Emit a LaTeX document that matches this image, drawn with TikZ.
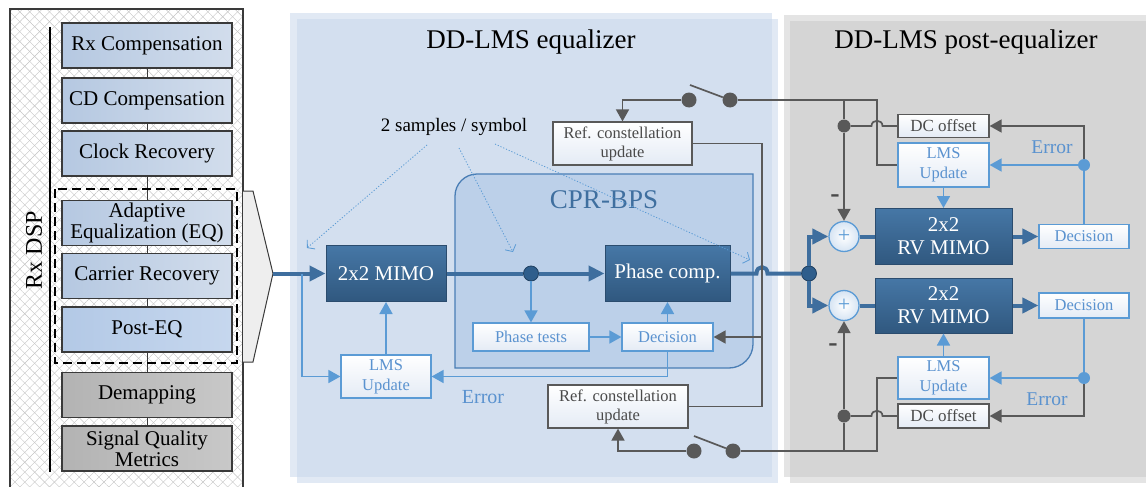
\documentclass[tikz,border=0pt]{standalone}
\usepackage{fontspec}
\setmainfont{Liberation Serif}
\usetikzlibrary{arrows.meta,patterns.meta}
\definecolor{edge}{HTML}{3A3A3A}
\definecolor{hatch}{HTML}{C4C4C4}
\definecolor{lbL}{HTML}{B5C8E1}
\definecolor{lbR}{HTML}{D2DDEC}
\definecolor{peL}{HTML}{B3C9E6}
\definecolor{peR}{HTML}{C6D7EE}
\definecolor{gbL}{HTML}{B3B3B3}
\definecolor{gbR}{HTML}{C8C8C8}
\definecolor{chev}{HTML}{EEEEEE}
\definecolor{mpO}{HTML}{E1E9F4}
\definecolor{mpI}{HTML}{D3DFEF}
\definecolor{rpO}{HTML}{E4E4E4}
\definecolor{rpI}{HTML}{D5D5D5}
\definecolor{cprF}{HTML}{BCD0E9}
\definecolor{cprE}{HTML}{4A7EB5}
\definecolor{cprT}{HTML}{3F6F9F}
\definecolor{lblue}{HTML}{5B9BD5}
\definecolor{lbtext}{HTML}{5A92CF}
\definecolor{gline}{HTML}{595959}
\definecolor{gtext}{HTML}{4A4A4A}
\definecolor{mline}{HTML}{3E6E9E}
\definecolor{dkT}{HTML}{4677A6}
\definecolor{dkB}{HTML}{30587F}
\definecolor{dkE}{HTML}{2B4C6E}
\definecolor{dotF}{HTML}{2F5E8C}
\definecolor{dotE}{HTML}{1F3F60}
\definecolor{wbB}{HTML}{E4EBF5}
\definecolor{plusO}{HTML}{D6E4F3}
\begin{document}
\begin{tikzpicture}[x=1pt,y=-1pt,
  lbox/.style={draw=edge,line width=1.2pt,minimum width=170pt,minimum height=45pt,inner sep=0pt,
    left color=lbL,right color=lbR,font=\fontsize{21}{21}\selectfont,align=center,text=black},
  gbox/.style={lbox,left color=gbL,right color=gbR},
  dbox/.style={draw=dkE,line width=1pt,top color=dkT,bottom color=dkB,text=white,inner sep=0pt,
    font=\fontsize{21}{23}\selectfont,align=center},
  wbox/.style={line width=1.2pt,inner sep=0pt,top color=white,bottom color=wbB,
    font=\fontsize{16.5}{20}\selectfont,align=center},
  bbox/.style={wbox,draw=lblue,text=lbtext},
  kbox/.style={wbox,draw=gline,text=gtext,font=\fontsize{16.5}{19}\selectfont},
  bline/.style={draw=lblue,line width=1.7pt},
  gln/.style={draw=gline,line width=1.7pt},
  mln/.style={draw=mline,line width=4pt},
  barr/.style={-{Triangle[length=12pt,width=13pt]}},
  marr/.style={-{Triangle[length=16pt,width=15pt]}},
  dotarr/.style={draw=lblue,line width=0.8pt,dash pattern=on 1.2pt off 1.8pt,-{Straight Barb[length=5pt,width=12pt]}},
  bdot/.style={circle,inner sep=0pt,minimum size=15pt,fill=dotF,draw=dotE,line width=0.8pt},
  gdot/.style={circle,inner sep=0pt,minimum size=14pt,fill=gline},
  bldot/.style={circle,inner sep=0pt,minimum size=12pt,fill=lblue},
  plus/.style={circle,draw=lblue,line width=1.3pt,minimum size=30pt,inner sep=0pt,
    inner color=white,outer color=plusO,text=lblue,font=\fontsize{22}{22}\selectfont},
  lbl/.style={inner sep=0pt},
  minus/.style={lbl,text=gtext,font=\bfseries\fontsize{28}{28}\selectfont},
]
\useasboundingbox (0,0) rectangle (1146,487);

% ---------- panel backgrounds
\fill[white] (10,9) rectangle (243,495);
\path[pattern={Lines[angle=45,distance=7pt,line width=0.4pt]},pattern color=hatch] (10,9) rectangle (243,495);
\path[pattern={Lines[angle=-45,distance=7pt,line width=0.4pt]},pattern color=hatch] (10,9) rectangle (243,495);
\draw[edge,line width=1.2pt] (10,495) -- (10,9) -- (243,9) -- (243,495);

% two offset translucent sheets per stage, darker where they overlap
\fill[mpO] (290,13) rectangle (772,477);
\fill[mpO] (297,19) rectangle (778,483);
\fill[mpI] (297,19) rectangle (772,477);
\fill[rpO] (784,15) rectangle (1150,477);
\fill[rpO] (790,21) rectangle (1150,483);
\fill[rpI] (790,21) rectangle (1150,477);

% ---------- receiver DSP chain
\draw[black,line width=1.8pt] (50,27) -- (50,472);
\node[lbl,rotate=90,font=\fontsize{24}{24}\selectfont] (rxdsp) at (34,250) {Rx DSP};

\node[lbox] (rx)  at (147,45.5)  {Rx Compensation};
\node[lbox] (cd)  at (147,100.5) {CD Compensation};
\node[lbox] (clk) at (147,153.5) {Clock Recovery};
\node[lbox] (aeq) at (147,223)   {Adaptive\\Equalization (EQ)};
\node[lbox] (car) at (147,276)   {Carrier Recovery};
\node[lbox,left color=peL,right color=peR] (peq) at (147,329.5) {Post-EQ};
\node[gbox] (dem) at (147,395)   {Demapping};
\node[gbox] (sqm) at (147,448.5) {Signal Quality\\Metrics};
\foreach \a/\b in {rx/cd,cd/clk,clk/aeq,aeq/car,car/peq,peq/dem,dem/sqm}
  \draw[edge,line width=1pt] (\a) -- (\b);

\draw[black,line width=2pt,dash pattern=on 9pt off 5pt] (55,189) rectangle (237,363);

% expansion chevron
\draw[edge,fill=chev,line width=1pt] (243,191) -- (253,191) -- (273,273.5) -- (253,362) -- (243,362);
\coordinate (tip) at (273,273.5);

% ---------- titles
\node[lbl,font=\fontsize{27}{27}\selectfont] (t1) at (531,42) {DD-LMS equalizer};
\node[lbl,font=\fontsize{27}{27}\selectfont] (t2) at (966,42) {DD-LMS post-equalizer};

% ---------- carrier phase recovery block
\draw[cprE,fill=cprF,line width=1.3pt] (455,368) -- (455,196)
  .. controls (455,183.9) and (464.9,174) .. (477,174) -- (753,174) -- (753,344)
  .. controls (753,357.2) and (742.2,368) .. (729,368) -- cycle;
\node[lbl,text=cprT,font=\fontsize{27}{27}\selectfont] (cpr) at (604,200) {CPR-BPS};

% ---------- equalizer blocks
\node[dbox,minimum width=120pt,minimum height=56pt] (mimo) at (386,273.5) {2x2 MIMO};
\node[dbox,minimum width=125pt,minimum height=56pt] (pc) at (667.5,273.5) {Phase comp.};
\node[bbox,minimum width=116pt,minimum height=28pt] (pt) at (531,337) {Phase tests};
\node[bbox,minimum width=91pt,minimum height=28pt] (dm) at (667.5,337) {Decision};
\node[bbox,minimum width=90pt,minimum height=43pt] (lm) at (386,376.5) {LMS\\Update};
\node[kbox,minimum width=139pt,minimum height=43pt] (rt) at (622.5,143.5) {Ref. constellation\\update};
\node[kbox,minimum width=140pt,minimum height=43pt] (rb) at (618,406.5) {Ref. constellation\\update};
\node[lbl,text=lbtext,font=\fontsize{20}{20}\selectfont] (e0) at (483,397) {Error};
\node[lbl,font=\fontsize{19}{19}\selectfont] (sps) at (454,127) {2 samples / symbol};

% sampling-rate annotations
\coordinate (q1s) at (427,145); \coordinate (q1e) at (307,248);
\coordinate (q2s) at (459,148); \coordinate (q2e) at (513,252);
\coordinate (q3s) at (495,144); \coordinate (q3e) at (750,260);
\draw[dotarr] (q1s) -- (q1e);
\draw[dotarr] (q2s) -- (q2e);
\draw[dotarr] (q3s) -- (q3e);

% main signal path
\coordinate (br) at (302,273.5);
\draw[mln,marr] (tip) -- (mimo);
\node[bdot] (d1) at (531,273.5) {};
\draw[mln] (mimo) -- (d1);
\draw[mln,marr] (d1) -- (pc);
\node[bdot] (d2) at (809,273.5) {};
\draw[mln] (pc.east) -- (756.5,273.5) .. controls (756.5,265) and (767.5,265) .. (767.5,273.5) -- (d2);

% adaptation loops
\coordinate (eL) at (667.5,376.5);
\draw[bline,barr] (br) -- (302,376.5) -- (lm);
\draw[bline,barr] (d1) -- (pt);
\draw[bline,barr] (pt) -- (dm);
\draw[bline,barr] (dm) -- (pc);
\draw[bline,barr] (dm.south) -- (eL) -- (lm);
\draw[bline,barr] (lm) -- (mimo);

% reference constellation switches
\node[gdot,minimum size=15pt] (s1a) at (689,100) {};
\node[gdot,minimum size=15pt] (s1b) at (730,100) {};
\coordinate (lv1) at (690,85);
\draw[gln] (lv1) -- (s1b);
\draw[gln,barr] (s1a) -- (622.5,100) -- (rt);

\node[gdot,minimum size=15pt] (s2a) at (694,451) {};
\node[gdot,minimum size=15pt] (s2b) at (733,451) {};
\coordinate (lv2) at (694,436);
\draw[gln] (lv2) -- (s2b);
\draw[gln,barr] (s2a) -- (618,451) -- (rb);

\draw[gln] (rt.east) -- (762,143.5) -- (762,406.5) -- (rb.east);
\draw[gln,barr] (762,337) -- (dm);

% ---------- post-equalizer blocks
\node[plus] (p1) at (844,236.5) {+};
\node[plus] (p2) at (844,305.5) {+};
\node[dbox,minimum width=137pt,minimum height=56pt] (rv1) at (943.5,236.5) {2x2\\RV MIMO};
\node[dbox,minimum width=137pt,minimum height=55pt] (rv2) at (943.5,305.5) {2x2\\RV MIMO};
\node[bbox,minimum width=90pt,minimum height=24pt] (de1) at (1084,236.5) {Decision};
\node[bbox,minimum width=90pt,minimum height=25pt] (de2) at (1084,305.5) {Decision};
\node[bbox,minimum width=91pt,minimum height=44pt] (lr1) at (943.5,165) {LMS\\Update};
\node[bbox,minimum width=91pt,minimum height=42pt] (lr2) at (943.5,378) {LMS\\Update};
\node[kbox,minimum width=91pt,minimum height=23pt,font=\fontsize{17}{17}\selectfont] (dc1) at (943.5,126) {DC offset};
\node[kbox,minimum width=91pt,minimum height=24pt,font=\fontsize{17}{17}\selectfont] (dc2) at (943.5,416) {DC offset};
\node[lbl,text=lbtext,font=\fontsize{19.5}{19.5}\selectfont] (e1) at (1052,147) {Error};
\node[lbl,text=lbtext,font=\fontsize{19.5}{19.5}\selectfont] (e2) at (1047,399) {Error};
\node[minus] (m1) at (835,199) {-};
\node[minus] (m2) at (833,348) {-};

% signal split into the two branches
\draw[mln,marr] (d2) -- (809,236.5) -- (p1);
\draw[mln,marr] (d2) -- (809,305.5) -- (p2);
\draw[mln] (p1) -- (rv1);
\draw[mln] (p2) -- (rv2);
\draw[mln,marr] (rv1) -- (de1);
\draw[mln,marr] (rv2) -- (de2);

% reference path and DC offset removal
\draw[gln] (s1b) -- (877,100) -- (877,165) -- (lr1);
\node[gdot,minimum size=13pt] (g1) at (844,126) {};
\draw[gln] (844,100) -- (g1);
\draw[gln,barr] (g1) -- (p1);
\draw[gln] (g1) -- (871.5,126) .. controls (871.5,119) and (882.5,119) .. (882.5,126) -- (dc1);

\draw[gln] (s2b) -- (877,451) -- (877,378) -- (lr2);
\node[gdot,minimum size=13pt] (g2) at (844,416) {};
\draw[gln] (844,451) -- (g2);
\draw[gln,barr] (g2) -- (p2);
\draw[gln] (g2) -- (871.5,416) .. controls (871.5,409) and (882.5,409) .. (882.5,416) -- (dc2);

% error feedback
\node[bldot] (b1) at (1084,165) {};
\draw[bline] (de1) -- (b1);
\draw[bline,barr] (b1) -- (lr1);
\draw[gln,barr] (b1) -- (1084,126) -- (dc1);
\draw[bline,barr] (lr1) -- (rv1);

\node[bldot] (b2) at (1084,378) {};
\draw[bline] (de2) -- (b2);
\draw[bline,barr] (b2) -- (lr2);
\draw[gln,barr] (b2) -- (1084,416) -- (dc2);
\draw[bline,barr] (lr2) -- (rv2);
\end{tikzpicture}
\end{document}
